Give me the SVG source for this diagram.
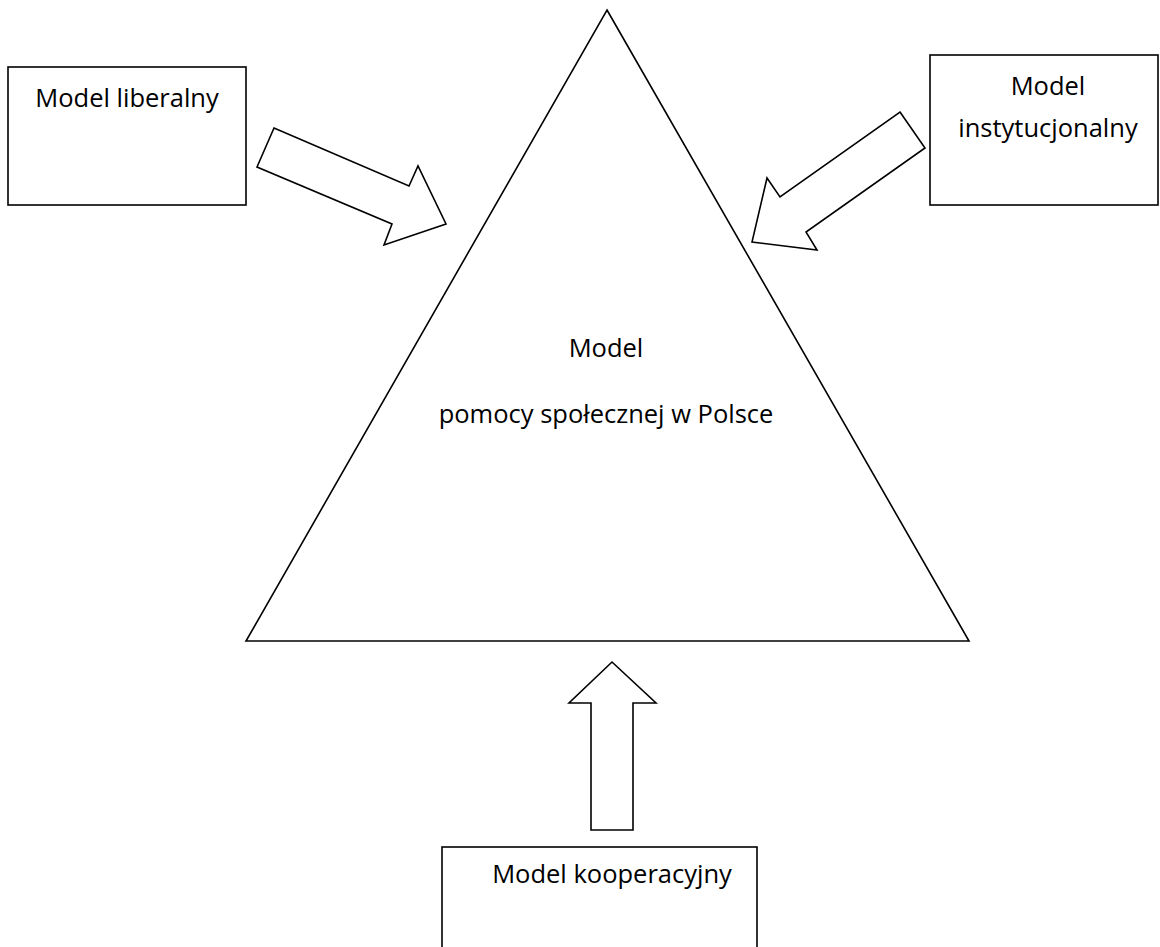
<svg xmlns="http://www.w3.org/2000/svg" width="1160" height="947" viewBox="0 0 1160 947">
<style>
.shape{fill:#fff;stroke:#000;stroke-width:1.6;stroke-linejoin:miter}
.lbl{font-family:"Open Sans","Noto Sans","DejaVu Sans",sans-serif;font-size:25.5px;fill:#000;text-anchor:middle}
</style>
<rect width="1160" height="947" fill="#fff"/>
<g id="center">
<polygon class="shape" points="607,10 969,641 246,641"/>
<text class="lbl" x="606" y="357">Model</text>
<text class="lbl" x="606" y="423">pomocy społecznej w Polsce</text>
</g>
<g id="liberal">
<rect class="shape" x="8" y="67" width="238" height="138"/>
<text class="lbl" x="127" y="107">Model liberalny</text>
</g>
<g id="institutional">
<rect class="shape" x="930" y="55" width="228" height="150"/>
<text class="lbl" x="1048" y="95">Model</text>
<text class="lbl" x="1048" y="137">instytucjonalny</text>
</g>
<g id="cooperative">
<rect class="shape" x="442" y="847" width="315" height="110"/>
<text class="lbl" x="612" y="883">Model kooperacyjny</text>
</g>
<g id="connectors">
<polygon class="shape" points="274,128 409,186 418,166 446,224 384,245 392,224 257,167"/>
<polygon class="shape" points="900,112 925,148 806,232 817,250 752,242 767,178 780,197"/>
<polygon class="shape" points="612,662 656,703 633,703 633,830 591,830 591,703 569,703"/>
</g>
</svg>
